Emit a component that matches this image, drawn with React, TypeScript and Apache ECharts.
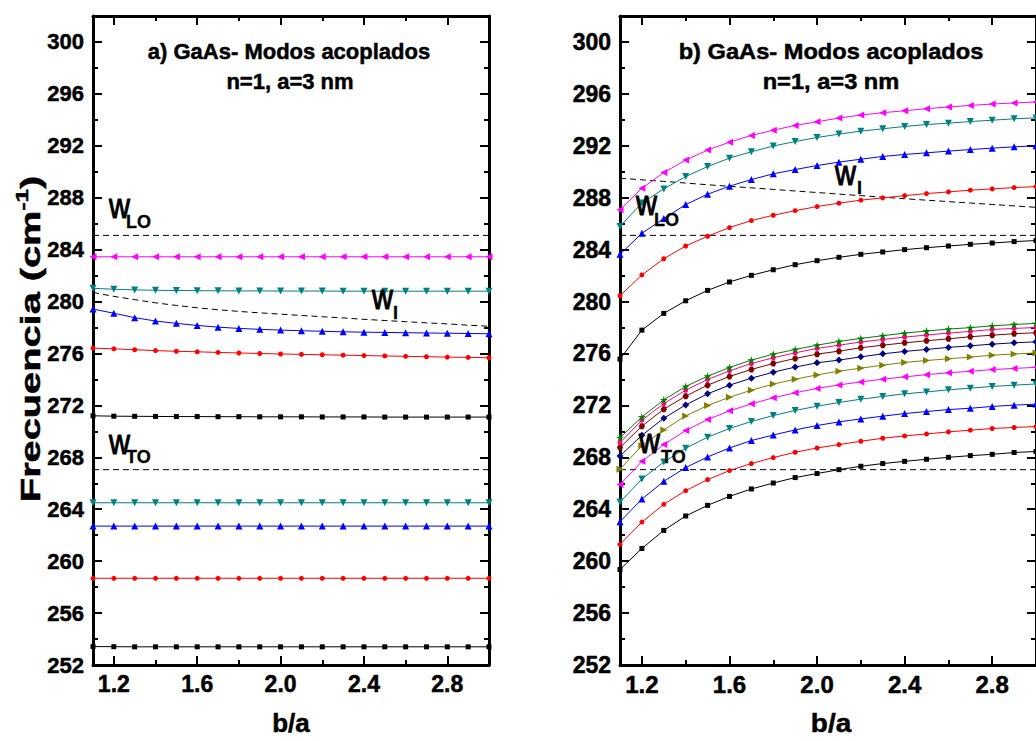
import React, { useEffect, useRef } from 'react';
import * as echarts from 'echarts';

// ---------- data ----------
const xValues = [1.1, 1.2, 1.3, 1.4, 1.5, 1.6, 1.7, 1.8, 1.9, 2.0, 2.1, 2.2, 2.3, 2.4, 2.5, 2.6, 2.7, 2.8, 2.9, 3.0];
const xMajorTicks = [1.2, 1.6, 2.0, 2.4, 2.8];
const xMinorTicks = [1.4, 1.8, 2.2, 2.6, 3.0];
const yMajorTicks = [252, 256, 260, 264, 268, 272, 276, 280, 284, 288, 292, 296, 300];
const yMinorTicks = [254, 258, 262, 266, 270, 274, 278, 282, 286, 290, 294, 298];

const wLO = 285.1;
const wTO = 267.05;

// panel a) — nearly flat confined modes
const aMagentaHi = [283.45, 283.45, 283.45, 283.45, 283.45, 283.45, 283.45, 283.45, 283.45, 283.45, 283.45, 283.45, 283.45, 283.45, 283.45, 283.45, 283.45, 283.45, 283.45, 283.45];
const aTealHi = [281.02, 280.95, 280.9, 280.87, 280.85, 280.84, 280.83, 280.82, 280.82, 280.81, 280.81, 280.81, 280.8, 280.8, 280.8, 280.8, 280.8, 280.8, 280.8, 280.8];
const aWI = [280.7, 280.4, 280.15, 279.9, 279.7, 279.52, 279.37, 279.24, 279.13, 279.03, 278.93, 278.83, 278.74, 278.63, 278.54, 278.45, 278.36, 278.28, 278.18, 278.1];
const aBlueHi = [279.42, 279.1, 278.76, 278.5, 278.32, 278.16, 278.03, 277.93, 277.86, 277.8, 277.75, 277.71, 277.67, 277.64, 277.62, 277.6, 277.58, 277.56, 277.54, 277.52];
const aRedHi = [276.41, 276.36, 276.29, 276.22, 276.17, 276.13, 276.08, 276.04, 276.0, 275.96, 275.93, 275.9, 275.87, 275.84, 275.81, 275.78, 275.75, 275.72, 275.7, 275.67];
const aBlackHi = [271.2, 271.17, 271.16, 271.15, 271.14, 271.14, 271.13, 271.13, 271.12, 271.12, 271.12, 271.11, 271.11, 271.11, 271.1, 271.1, 271.1, 271.1, 271.1, 271.1];
const aTealLo = [264.5, 264.5, 264.5, 264.5, 264.5, 264.5, 264.5, 264.5, 264.5, 264.5, 264.5, 264.5, 264.5, 264.5, 264.5, 264.5, 264.5, 264.5, 264.5, 264.5];
const aBlueLo = [262.7, 262.7, 262.7, 262.7, 262.7, 262.7, 262.7, 262.7, 262.7, 262.7, 262.7, 262.7, 262.7, 262.7, 262.7, 262.7, 262.7, 262.7, 262.7, 262.7];
const aRedLo = [258.68, 258.68, 258.68, 258.68, 258.68, 258.68, 258.68, 258.68, 258.68, 258.68, 258.68, 258.68, 258.68, 258.68, 258.68, 258.68, 258.68, 258.68, 258.68, 258.68];
const aBlackLo = [253.42, 253.41, 253.4, 253.4, 253.4, 253.4, 253.4, 253.4, 253.4, 253.4, 253.4, 253.4, 253.4, 253.4, 253.4, 253.4, 253.4, 253.4, 253.4, 253.4];

// panel b) — coupled modes
const bWI = [289.5, 289.38, 289.26, 289.13, 289.0, 288.88, 288.76, 288.64, 288.52, 288.4, 288.28, 288.16, 288.04, 287.92, 287.81, 287.7, 287.59, 287.48, 287.37, 287.26];
const bMagentaHi = [287.08, 288.73, 289.94, 290.9, 291.67, 292.28, 292.8, 293.2, 293.57, 293.85, 294.14, 294.37, 294.55, 294.7, 294.86, 294.99, 295.11, 295.22, 295.3, 295.38];
const bTealHi = [285.78, 287.6, 288.68, 289.63, 290.4, 291.05, 291.54, 291.98, 292.33, 292.64, 292.9, 293.13, 293.31, 293.49, 293.64, 293.74, 293.87, 293.97, 294.08, 294.15];
const bBlueHi = [283.64, 285.26, 286.39, 287.47, 288.27, 288.89, 289.4, 289.84, 290.17, 290.48, 290.74, 290.97, 291.18, 291.33, 291.46, 291.59, 291.71, 291.82, 291.92, 292.0];
const bRedHi = [280.45, 282.05, 283.3, 284.28, 285.03, 285.7, 286.24, 286.65, 287.0, 287.32, 287.58, 287.81, 287.99, 288.16, 288.32, 288.45, 288.58, 288.68, 288.78, 288.86];
const bBlackHi = [275.57, 277.8, 279.09, 280.06, 280.86, 281.51, 282.02, 282.45, 282.84, 283.15, 283.41, 283.64, 283.82, 284.0, 284.15, 284.28, 284.41, 284.51, 284.62, 284.7];
const bGreenLo = [269.52, 271.11, 272.43, 273.46, 274.25, 274.92, 275.49, 275.95, 276.31, 276.64, 276.93, 277.16, 277.37, 277.57, 277.73, 277.88, 277.99, 278.13, 278.23, 278.32];
const bPinkLo = [269.14, 270.86, 272.14, 273.17, 274.0, 274.66, 275.23, 275.67, 276.05, 276.39, 276.64, 276.88, 277.08, 277.26, 277.42, 277.57, 277.7, 277.85, 277.93, 278.0];
const bWineLo = [268.75, 270.4, 271.71, 272.71, 273.56, 274.23, 274.77, 275.23, 275.62, 275.95, 276.18, 276.44, 276.64, 276.82, 276.98, 277.13, 277.29, 277.41, 277.52, 277.6];
const bNavyLo = [268.1, 269.7, 271.01, 272.04, 272.89, 273.56, 274.1, 274.56, 274.95, 275.28, 275.49, 275.74, 275.97, 276.16, 276.31, 276.47, 276.59, 276.72, 276.82, 276.9];
const bOliveLo = [267.08, 268.9, 270.11, 271.19, 271.99, 272.63, 273.17, 273.64, 274.02, 274.35, 274.64, 274.87, 275.1, 275.31, 275.46, 275.59, 275.72, 275.87, 275.96, 276.04];
const bMagentaLo = [265.9, 267.69, 268.98, 270.06, 270.91, 271.58, 272.12, 272.58, 272.97, 273.31, 273.58, 273.81, 274.02, 274.2, 274.37, 274.51, 274.63, 274.76, 274.85, 274.93];
const bTealLo = [264.55, 266.33, 267.64, 268.7, 269.55, 270.22, 270.76, 271.22, 271.61, 271.94, 272.22, 272.48, 272.69, 272.89, 273.04, 273.2, 273.33, 273.46, 273.56, 273.65];
const bBlueLo = [263.04, 264.78, 266.15, 267.21, 268.03, 268.72, 269.29, 269.72, 270.11, 270.45, 270.73, 270.96, 271.17, 271.37, 271.53, 271.68, 271.78, 271.92, 272.02, 272.1];
const bRedLo = [261.29, 263.01, 264.38, 265.43, 266.28, 266.98, 267.52, 267.98, 268.39, 268.72, 268.98, 269.24, 269.47, 269.65, 269.8, 269.96, 270.09, 270.22, 270.3, 270.37];
const bBlackLo = [259.36, 260.98, 262.37, 263.48, 264.3, 264.99, 265.56, 266.02, 266.44, 266.75, 267.05, 267.31, 267.52, 267.69, 267.85, 268.0, 268.13, 268.23, 268.37, 268.45];

// ---------- styling ----------
const FONT = 'Liberation Sans, Arial, Helvetica, sans-serif';
const C = {
  black: '#000000', red: '#ff0000', blue: '#0000ff', teal: '#008080', magenta: '#ff00ff',
  olive: '#808000', navy: '#000080', wine: '#800000', pink: '#ff0080', green: '#008000',
};
const STAR = 'path://M50,0 L61,35 L98,35 L68,57 L79,91 L50,70 L21,91 L32,57 L2,35 L39,35 Z';
const HEX = 'path://M25,0 L75,0 L100,43 L75,86 L25,86 L0,43 Z';

type Mk = { symbol: string; size: number; rotate?: number };
const SQ: Mk = { symbol: 'rect', size: 5 };
const CI: Mk = { symbol: 'circle', size: 5 };
const UP: Mk = { symbol: 'triangle', size: 7 };
const DN: Mk = { symbol: 'triangle', size: 7, rotate: 180 };
const LT: Mk = { symbol: 'triangle', size: 7, rotate: 90 };
const RT: Mk = { symbol: 'triangle', size: 7, rotate: -90 };
const DI: Mk = { symbol: 'diamond', size: 7 };
const HX: Mk = { symbol: HEX, size: 6 };
const ST: Mk = { symbol: STAR, size: 8 };

function curve(panel: number, values: number[], color: string, mk: Mk) {
  return {
    type: 'line',
    xAxisIndex: panel * 4,
    yAxisIndex: panel * 4,
    data: xValues.map((x, i) => [x, values[i]]),
    symbol: mk.symbol,
    symbolSize: mk.size,
    symbolRotate: mk.rotate || 0,
    showSymbol: true,
    showAllSymbol: true,
    itemStyle: { color },
    lineStyle: { color, width: 1 },
    z: 3,
  };
}

function dashed(panel: number, values: number[]) {
  return {
    type: 'line',
    xAxisIndex: panel * 4,
    yAxisIndex: panel * 4,
    data: xValues.map((x, i) => [x, values[i]]),
    symbol: 'none',
    lineStyle: { color: '#000', width: 1, type: [6, 4] },
    z: 2,
  };
}

const flat = (v: number) => xValues.map(() => v);

function axesFor(panel: number, ySize: number, xSize: number) {
  const tickStyle = { color: '#000', width: 2 };
  const lineOn = { show: true, onZero: false, lineStyle: { color: '#000', width: 3 } };
  const lineOff = { show: false, onZero: false };
  const xb = { type: 'value', gridIndex: panel, min: 1.1, max: 3.0, splitLine: { show: false } };
  const yb = { type: 'value', gridIndex: panel, min: 252, max: 302, splitLine: { show: false } };
  const lab = { color: '#000', fontFamily: FONT, fontWeight: 'bold', textBorderColor: '#000', textBorderWidth: 0.5 };
  const x = [
    { ...xb, position: 'bottom', axisLine: lineOn,
      axisTick: { show: true, inside: true, length: 9, customValues: xMajorTicks, lineStyle: tickStyle },
      axisLabel: { show: true, customValues: xMajorTicks, margin: 7, formatter: (v: number) => v.toFixed(1), ...lab, fontSize: xSize } },
    { ...xb, position: 'bottom', axisLine: lineOff,
      axisTick: { show: true, inside: true, length: 5, customValues: xMinorTicks, lineStyle: tickStyle },
      axisLabel: { show: false } },
    { ...xb, position: 'top', axisLine: lineOn,
      axisTick: { show: true, inside: true, length: 9, customValues: xMajorTicks, lineStyle: tickStyle },
      axisLabel: { show: false } },
    { ...xb, position: 'top', axisLine: lineOff,
      axisTick: { show: true, inside: true, length: 5, customValues: xMinorTicks, lineStyle: tickStyle },
      axisLabel: { show: false } },
  ];
  const y = [
    { ...yb, position: 'left', axisLine: lineOn,
      axisTick: { show: true, inside: true, length: 9, customValues: yMajorTicks, lineStyle: tickStyle },
      axisLabel: { show: true, customValues: yMajorTicks, margin: 9, formatter: (v: number) => String(Math.round(v)), ...lab, fontSize: ySize } },
    { ...yb, position: 'left', axisLine: lineOff,
      axisTick: { show: true, inside: true, length: 5, customValues: yMinorTicks, lineStyle: tickStyle },
      axisLabel: { show: false } },
    { ...yb, position: 'right', axisLine: lineOn,
      axisTick: { show: true, inside: true, length: 9, customValues: yMajorTicks, lineStyle: tickStyle },
      axisLabel: { show: false } },
    { ...yb, position: 'right', axisLine: lineOff,
      axisTick: { show: true, inside: true, length: 5, customValues: yMinorTicks, lineStyle: tickStyle },
      axisLabel: { show: false } },
  ];
  return { x, y };
}

function txt(text: string, x: number, y: number, size: number, align: string = 'left', extra: any = {}, weight: string = 'bold', stroke: number = 0.5) {
  return {
    type: 'text', x, y, z: 10,
    ...extra,
    style: {
      text, fill: '#000',
      font: `${weight} ${size}px ${FONT}`,
      fontFamily: FONT, fontWeight: weight, fontSize: size,
      stroke: stroke > 0 ? '#000' : undefined, lineWidth: stroke,
      align, textAlign: align, verticalAlign: 'middle', textVerticalAlign: 'middle',
    },
  };
}

function omega(sub: string, x: number, y: number, subX: number, subY: number) {
  return [
    txt('w', x, y, 29, 'left', { scaleY: 1.2 }, 'normal', 0.9),
    txt(sub, subX, subY, 18, 'left', {}, 'bold', 0.3),
  ];
}

export default function App() {
  const ref = useRef<HTMLDivElement>(null);
  useEffect(() => {
    if (!ref.current) return;
    const chart = echarts.init(ref.current, undefined, { renderer: 'svg' });
    const A = axesFor(0, 22, 23);
    const B = axesFor(1, 23, 24);
    const option: any = {
      animation: false,
      backgroundColor: '#ffffff',
      grid: [
        { left: 93, top: 16, width: 396, height: 649 },
        { left: 620, top: 16, width: 423, height: 649 },
      ],
      xAxis: [...A.x, ...B.x],
      yAxis: [...A.y, ...B.y],
      series: [
        dashed(0, flat(wLO)),
        dashed(0, flat(wTO)),
        dashed(0, aWI),
        curve(0, aMagentaHi, C.magenta, LT),
        curve(0, aTealHi, C.teal, DN),
        curve(0, aBlueHi, C.blue, UP),
        curve(0, aRedHi, C.red, CI),
        curve(0, aBlackHi, C.black, SQ),
        curve(0, aTealLo, C.teal, DN),
        curve(0, aBlueLo, C.blue, UP),
        curve(0, aRedLo, C.red, CI),
        curve(0, aBlackLo, C.black, SQ),

        dashed(1, flat(wLO)),
        dashed(1, flat(wTO)),
        dashed(1, bWI),
        curve(1, bMagentaHi, C.magenta, LT),
        curve(1, bTealHi, C.teal, DN),
        curve(1, bBlueHi, C.blue, UP),
        curve(1, bRedHi, C.red, CI),
        curve(1, bBlackHi, C.black, SQ),
        curve(1, bBlackLo, C.black, SQ),
        curve(1, bRedLo, C.red, CI),
        curve(1, bBlueLo, C.blue, UP),
        curve(1, bTealLo, C.teal, DN),
        curve(1, bMagentaLo, C.magenta, LT),
        curve(1, bOliveLo, C.olive, RT),
        curve(1, bNavyLo, C.navy, DI),
        curve(1, bWineLo, C.wine, HX),
        curve(1, bPinkLo, C.pink, CI),
        curve(1, bGreenLo, C.green, ST),
      ],
      graphic: [
        txt('a) GaAs- Modos acoplados', 289, 51, 22, 'center'),
        txt('n=1, a=3 nm', 290, 81, 22, 'center'),
        txt('b) GaAs- Modos acoplados', 831, 51, 22, 'center', { scaleX: 1.075 }),
        txt('n=1, a=3 nm', 831, 81, 22, 'center', { scaleX: 1.075 }),
        ...omega('LO', 109, 206, 126, 221.5),
        ...omega('TO', 109, 442, 126, 456.5),
        ...omega('I', 372, 297, 393, 313),
        ...omega('LO', 636, 203.5, 654, 219.5),
        ...omega('I', 835, 173, 857, 187.5),
        ...omega('TO', 639, 441, 661, 456.5),
        txt('b/a', 291, 723, 26, 'center'),
        txt('b/a', 831, 723, 26, 'center', { scaleX: 1.075 }),
        {
          type: 'text', x: 30, y: 339, rotation: Math.PI / 2, scaleX: 1.42, z: 10,
          style: {
            text: '{m|Frecuencia (cm}{s|-1}{m|)}',
            fill: '#000', stroke: '#000', lineWidth: 0.5,
            align: 'center', textAlign: 'center', verticalAlign: 'middle', textVerticalAlign: 'middle',
            rich: {
              m: { fontFamily: FONT, fontWeight: 'bold', fontSize: 28, lineHeight: 34, fill: '#000' },
              s: { fontFamily: FONT, fontWeight: 'bold', fontSize: 17, verticalAlign: 'top', fill: '#000' },
            },
          },
        },
      ],
    };
    chart.setOption(option);
    return () => chart.dispose();
  }, []);
  return <div ref={ref} style={{ position: 'absolute', left: 0, top: 0, width: 1036, height: 741 }} />;
}
